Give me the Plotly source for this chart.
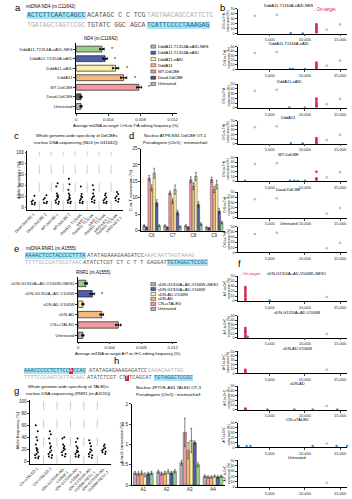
import plotly.graph_objects as go

W, H = 352, 499
FONT = "Liberation Sans, Arial, sans-serif"
MONO = "Liberation Mono, DejaVu Sans Mono, monospace"

# ---------------- DATA ----------------
# panel a
a_labels = ["DddA11-T1314A-eAID-NES", "DddA11-T1314A-eAID", "DddA11-eAID", "DddA11",
            "WT-DdCBE", "Dead-DdCBE", "Untreated"]
a_means = [0.0032, 0.0036, 0.0049, 0.0059, 0.0078, 0.0006, 0.0006]
a_err = [0.0003, 0.0003, 0.0004, 0.0004, 0.0003, 0.0001, 0.0001]
a_reps = [[0.0030, 0.0033, 0.0034], [0.0034, 0.0036, 0.0038], [0.0046, 0.0050, 0.0052],
          [0.0056, 0.0059, 0.0062], [0.0076, 0.0078, 0.0081], [0.0005, 0.0006, 0.0007],
          [0.0005, 0.0006, 0.0007]]
a_sig = ["*", "*", "*", "*", "*", "", ""]

# panel c
c_labels = ["Dead-DdCBE 1", "Dead-DdCBE 2", "WT-DdCBE 1", "WT-DdCBE 2",
            "DddA11-T1314A-<br>eAID 1", "DddA11-T1314A-<br>eAID 2",
            "DddA11-T1314A-<br>eAID-NES 1", "DddA11-T1314A-<br>eAID-NES 2"]
c_vals = [[21, 12, 10, 8, 6, 5],
          [22, 17, 14, 10, 8, 7],
          [44, 38, 25, 22, 20, 18, 15, 12, 10, 8, 6],
          [52, 42, 32, 25, 22, 18, 16, 14, 12, 10, 8, 7],
          [38, 24, 20, 18, 15, 12, 10, 8, 7],
          [40, 32, 25, 20, 18, 15, 12, 10, 8],
          [25, 22, 18, 15, 12, 10, 8, 7],
          [28, 24, 20, 17, 15, 12, 10]]

# panel d
d_groups = ["C6", "C7", "C8", "C9"]
d_series = ["Untreated", "Dead-DdCBE", "WT-DdCBE", "DddA11", "DddA11-eAID",
            "DddA11-T1314A-eAID", "DddA11-T1314A-eAID-NES"]
d_vals = [[1.5, 1.5, 1.5, 1.0],
          [1.0, 1.0, 1.0, 0.8],
          [16.0, 11.5, 15.5, 15.5],
          [13.0, 9.0, 13.5, 12.5],
          [17.5, 12.5, 16.5, 14.0],
          [8.5, 5.5, 8.0, 6.0],
          [1.5, 1.2, 2.0, 2.5]]
d_err = [[0.3, 0.3, 0.3, 0.2], [0.2, 0.2, 0.2, 0.2], [0.8, 0.6, 0.9, 0.8],
         [0.9, 0.7, 1.0, 0.9], [1.5, 1.4, 1.2, 1.3], [0.9, 0.7, 0.8, 0.8],
         [0.3, 0.3, 0.4, 0.4]]

# panel b (mtDNA-wide, DdCBE)
b_titles = ["DddA11-T1314A-eAID-NES", "DddA11-T1314A-eAID", "DddA11-eAID", "DddA11",
            "WT-DdCBE", "Dead-DdCBE", "Untreated"]
b_gray_pos = [2900, 6000, 13100, 15000]
b_gray_val = [36, 38, 8, 19]
b_red_pos = [11636, 11638, 11640, 11642, 11644, 11646, 11648]
b_red_val = [[19, 16, 13, 10, 8, 5, 3],
             [15, 12, 9, 6, 3, 1, None],
             [20, 17, 13, 9, 6, 3, None],
             [12, 9, 6, 3, 1, None, None],
             [20, 6, 3, None, None, None, None],
             [None] * 7,
             [None] * 7]
b_blue_pos = [[8000, 9700], [7900, 8300, 10000], [7800, 10000], [8000, 9700],
              [1500, 7900, 8500, 9000, 10000], [], []]
b_blue_val = [[1, 0.5], [1, 0.6, 0.8], [1, 0.6], [1, 0.5],
              [0.8, 1.2, 1.0, 0.7, 0.9], [], []]

# panel e
e_labels = ["sDN-G1310A+AD-V106W+NES1", "sDN-G1310A+AD-V106W", "sDN-AD-V106W",
            "sDN-AD", "CN+sTALED", "Untreated"]
e_means = [0.0010, 0.0018, 0.0006, 0.0030, 0.0051, 0.0006]
e_err = [0.0002, 0.0003, 0.0001, 0.0002, 0.0003, 0.0001]
e_reps = [[0.0009, 0.0010, 0.0011], [0.0016, 0.0018, 0.0020], [0.0005, 0.0006, 0.0007],
          [0.0028, 0.0030, 0.0032], [0.0048, 0.0051, 0.0054], [0.0005, 0.0006, 0.0007]]
e_sig = ["", "*", "", "", "", ""]

# panel f (mtDNA-wide, TALED)
f_titles = ["sDN-G1310A+AD-V106W+NES1", "sDN-G1310A+AD-V106W", "sDN-AD-V106W",
            "sDN-AD", "CN+sTALED", "Untreated"]
f_gray_pos = [13100]
f_gray_val = [8]
f_red_pos = [1547, 1549, 1551, 1553, 1555, 1557, 1559, 1561, 1563]
f_red_val = [[28, 25, 22, 19, 15, 12, 9, 5, 2],
             [22, 18, 15, 12, 8, 4, 1, None, None],
             [8, 5, 2, None, None, None, None, None, None],
             [3, 1, None, None, None, None, None, None, None],
             [None] * 9,
             [None] * 9]
f_blue_pos = [[5000], [1900, 16300], [], [4700, 8500, 11100, 14600],
              [640, 1724, 2270, 11100, 14500, 16000], []]
f_blue_val = [[1], [2, 3], [], [1, 1, 1, 1], [3, 3, 3, 3, 3, 3], []]

# panel g
g_labels = ["CN+sTALED 1", "CN+sTALED 2", "sDN-G1310A+AD-<br>V106W 1", "sDN-G1310A+AD-<br>V106W 2",
            "sDN-G1310A+AD-<br>V106W+NES1 1", "sDN-G1310A+AD-<br>V106W+NES1 2"]
g_vals = [[60, 50, 40, 35, 28, 22, 20, 18, 15, 12, 10, 8, 6, 5],
          [50, 45, 38, 30, 25, 22, 18, 15, 12, 10, 8, 6],
          [40, 38, 28, 25, 22, 20, 18, 15, 12, 10, 8],
          [38, 32, 25, 22, 18, 16, 15, 12, 10, 8, 7],
          [35, 30, 25, 20, 18, 15, 12, 10, 8, 6],
          [28, 25, 22, 20, 18, 16, 15, 12]]

# panel h
h_groups = ["A1", "A2", "A3", "A4"]
h_series = ["Untreated", "CN+sTALED", "sDN-AD", "sDN-AD-V106W",
            "sDN-G1310A+AD-V106W", "sDN-G1310A+AD-V106W+NES1"]
h_vals = [[0.30, 0.33, 0.55, 0.22],
          [0.28, 0.28, 1.30, 0.20],
          [0.30, 0.30, 0.85, 0.20],
          [0.25, 0.33, 1.10, 0.22],
          [0.28, 0.30, 1.05, 0.20],
          [0.30, 0.34, 0.50, 0.22]]
h_err = [[0.04, 0.04, 0.06, 0.03], [0.05, 0.04, 0.35, 0.03], [0.05, 0.04, 0.20, 0.03],
         [0.05, 0.05, 0.30, 0.03], [0.04, 0.04, 0.04, 0.03], [0.04, 0.04, 0.05, 0.03]]

# sequences (text, kind): kind c = protospacer (cyan), d = window (dark), g = flank (gray), r = target (red)
seq_a1 = [("ACTCTTCAATCAGCC", "c"), ("ACATAGC C C TCG", "d"), ("TAGTAACAGCCATTCTC", "g")]
seq_a2 = [("TGATAGCTAGTCCGC", "g"), ("TGTATC GGC AGCA", "d"), ("TCATTCCCCTAAAGAG", "c")]
seq_e1 = [("AAAACTCCTACCCCTTTA", "c"), ("ATATAGAAAGAAGATCC", "d"), ("AAACAATTAGTAAAG", "g")]
seq_e2 = [("TTTTGCCCATGCGTAAC", "g"), ("ATATCTCGT CT C T T GAGGAT", "d"), ("TGTAGGCTCCGC", "c")]
seq_h1 = [("AAACCCCCTCTTCC", "c"), ("A", "r"), ("CCAC", "c"), ("ATATAGAGAAAGAGATCC", "d"), ("GAAACAATTAG", "g")]
seq_h2 = [("TTTTCCCAATCATTACAAC", "g"), ("ATATCTCGT CT", "d"), ("T", "r"), ("TCAGCAT", "d"), ("TGTAGGCTCCGC", "c")]

# ---------------- STYLE ----------------
COL = {"Untreated": "#b3b3b3", "Dead-DdCBE": "#585858", "WT-DdCBE": "#ef9aa0",
       "DddA11": "#f6b97c", "DddA11-eAID": "#fbf0a6", "DddA11-T1314A-eAID": "#4f5fae",
       "DddA11-T1314A-eAID-NES": "#9ccc8a",
       "CN+sTALED": "#ef9aa0", "sDN-AD": "#f6b97c", "sDN-AD-V106W": "#fbf0a6",
       "sDN-G1310A+AD-V106W": "#4f5fae", "sDN-G1310A+AD-V106W+NES1": "#9ccc8a"}
RED = "#d9224e"
BLUE = "#3a8fd0"
GRAY = "#bdbdbd"


def xd(a, b):
    return [a / W, b / W]


def yd(top, bot):
    return [1 - bot / H, 1 - top / H]


base_axis = dict(showline=True, linecolor="black", linewidth=0.6, ticks="outside",
                 ticklen=2, tickwidth=0.6, tickfont=dict(size=4.5, family=FONT, color="#222"),
                 showgrid=False, zeroline=False, mirror=False)
layout_axes = {}


def make_axes(i, xdom, ydom, xkw=None, ykw=None):
    sx = "" if i == 1 else str(i)
    xa = dict(base_axis); xa.update(domain=xdom, anchor="y" + sx)
    ya = dict(base_axis); ya.update(domain=ydom, anchor="x" + sx)
    if xkw: xa.update(xkw)
    if ykw: ya.update(ykw)
    layout_axes["xaxis" + sx] = xa
    layout_axes["yaxis" + sx] = ya
    return "x" + sx, "y" + sx


fig = go.Figure()
ann = []
shapes = []


def T(px, py, text, size=4.5, color="black", xa="center", ya="middle", angle=0,
      family=FONT, bg=None):
    d = dict(x=px / W, y=1 - py / H, xref="paper", yref="paper", text=text,
             showarrow=False, xanchor=xa, yanchor=ya, textangle=angle,
             borderwidth=0, borderpad=0,
             font=dict(size=size, color=color, family=family))
    if bg:
        d.update(bgcolor=bg)
    ann.append(d)


# panel letters
for lab, px, py in [("a", 5, 6), ("b", 219, 6), ("c", 4, 135), ("d", 124, 135),
                    ("e", 4, 249), ("f", 237, 264), ("g", 4, 392), ("h", 108, 362)]:
    T(px, py, lab, size=9.5, xa="center")

# ---------- sequences ----------
CY = "#a9e4f5"
KIND = {"c": ("#1b5f8a", CY), "d": ("#555555", None), "g": ("#b0b0b0", None), "r": ("white", "#c8243f")}


def seq_line(x0, y, segs, size):
    cw = 0.6 * size
    x = x0
    for k, (txt, kind) in enumerate(segs):
        col, bg = KIND[kind]
        T(x, y, txt, size, col, "left", family=MONO, bg=bg)
        x += len(txt) * cw
        nxt = segs[k + 1][1] if k + 1 < len(segs) else None
        if kind == "r" or nxt == "r":
            x += 1.2
        else:
            x += cw


T(14, 5, "mtDNA ND4 (m.C11642)", size=4.5, xa="left")
seq_line(15, 14, seq_a1, 6.5)
seq_line(15, 24, seq_a2, 6.5)
T(14, 249, "mtDNA RNR1 (m.A1555)", size=4.5, xa="left")
seq_line(13, 256, seq_e1, 5.6)
seq_line(13, 263, seq_e2, 5.6)
seq_line(12, 373, seq_h1, 5.4)
seq_line(12, 380, seq_h2, 5.4)


# ---------- horizontal bar panels (a, e) ----------
def hbar_panel(i, labels, means, errs, reps, sig, xdom, ydom, title, tpos, xlabel, xlpos):
    xr, yr = make_axes(i, xdom, ydom,
                       dict(range=[0, 0.0125], tickvals=[0, 0.004, 0.008, 0.012],
                            ticktext=["0", "0.004", "0.008", "0.012"],
                            tickfont=dict(size=4.2, family=FONT, color="#222")),
                       dict(autorange="reversed", type="category", ticks="outside",
                            tickfont=dict(size=4.3, family=FONT, color="#222")))
    fig.add_trace(go.Bar(x=means, y=labels, orientation="h", width=0.62,
                         marker=dict(color=[COL[l] for l in labels], line=dict(color="black", width=0.6)),
                         error_x=dict(type="data", array=errs, color="black", thickness=0.6, width=1.5),
                         xaxis=xr, yaxis=yr))
    rx, ry = [], []
    for lab, rr in zip(labels, reps):
        for v in rr:
            rx.append(v); ry.append(lab)
    fig.add_trace(go.Scatter(x=rx, y=ry, mode="markers", marker=dict(size=1.8, color="black"),
                             xaxis=xr, yaxis=yr, cliponaxis=False))
    for lab, m, e, s in zip(labels, means, errs, sig):
        if s:
            ann.append(dict(x=m + e + 0.0006, y=lab, xref=xr, yref=yr, text=s, showarrow=False,
                            xanchor="left", font=dict(size=5.5, family=FONT)))
    T(tpos[0], tpos[1], title, 4.5)
    T(xlpos[0], xlpos[1], xlabel, 4.0)


hbar_panel(1, a_labels, a_means, a_err, a_reps, a_sig, xd(66, 171), yd(41, 112),
           "ND4 (m.C11642)", (92, 37),
           "Average mtDNA on-target C•G-to-T•A editing frequency (%)", (118, 124.5))
hbar_panel(2, e_labels, e_means, e_err, e_reps, e_sig, xd(68, 171), yd(278, 343),
           "RNR1 (m.A1555)", (84, 273),
           "Average mtDNA on-target A•T-to-G•C editing frequency (%)", (120, 355.5))


def legend(items, x0, y0, dy):
    for k, it in enumerate(items):
        yy = y0 + k * dy
        shapes.append(dict(type="rect", xref="paper", yref="paper",
                           x0=x0 / W, x1=(x0 + 5) / W, y0=1 - (yy + 1.6) / H, y1=1 - (yy - 1.6) / H,
                           fillcolor=COL[it], line=dict(color="black", width=0.4)))
        T(x0 + 7, yy, it, 4.1, xa="left")


legend(a_labels, 144, 45, 6.3)
legend(e_labels, 144, 285, 5.0)


# ---------- strip panels (c, g) ----------
def strip_panel(i, labels, vals, xdom, ydom, t1, t2, tx, ty, ylx, yly):
    xr, yr = make_axes(i, xdom, ydom,
                       dict(type="category", tickangle=-45, ticks="",
                            tickfont=dict(size=3.8, family=FONT, color="#222"),
                            range=[-0.5, len(labels) - 0.5]),
                       dict(range=[-5, 102], tickvals=[0, 20, 40, 60, 80, 100]))
    for lab, v in zip(labels, vals):
        fig.add_trace(go.Box(y=v, x=[lab] * len(v), boxpoints="all", jitter=0.7, pointpos=0,
                             marker=dict(size=2, color="black"), line=dict(width=0, color="rgba(0,0,0,0)"),
                             fillcolor="rgba(0,0,0,0)", xaxis=xr, yaxis=yr, width=0.5))
    for k in range(len(labels) - 1):
        shapes.append(dict(type="line", xref=xr, yref="paper",
                           x0=k + 0.5, x1=k + 0.5, y0=ydom[0], y1=ydom[1],
                           line=dict(color="#9a9a9a", width=0.5, dash="dash")))
    T(tx, ty, t1, 4.3)
    T(tx, ty + 7, t2, 4.3)
    T(ylx, yly, "Allele frequency (%)", 4.2, angle=-90)


strip_panel(3, c_labels, c_vals, xd(15, 115), yd(151, 210),
            "Whole genome-wide specificity of DdCBEs", "nuclear DNA sequencing (ND4 (m.G11642))",
            66, 135, 5, 180)
strip_panel(4, g_labels, g_vals, xd(18, 102), yd(402, 467),
            "Whole genome-wide specificity of TALEDs", "nuclear DNA sequencing (RNR1 (m.A1555))",
            58, 388, 5, 433)


# ---------- grouped bar panels (d, h) ----------
def group_panel(i, groups, series, vals, errs, xdom, ydom, yrange, ytick, t1, t2, tx, ty,
                ylab, ylx, yly):
    xr, yr = make_axes(i, xdom, ydom,
                       dict(type="category", range=[-0.5, len(groups) - 0.5], ticks=""),
                       dict(range=yrange, dtick=ytick))
    for s, v, e in zip(series, vals, errs):
        fig.add_trace(go.Bar(x=groups, y=v, name=s,
                             marker=dict(color=COL[s], line=dict(color="#333", width=0.4)),
                             error_y=dict(type="data", array=e, color="black", thickness=0.5, width=0.8),
                             xaxis=xr, yaxis=yr, offsetgroup=s))
    T(tx, ty, t1, 4.3)
    T(tx, ty + 7, t2, 4.3)
    T(ylx, yly, ylab, 4.2, angle=-90)


group_panel(5, d_groups, d_series, d_vals, d_err, xd(134, 221), yd(148, 231), [0, 25], 5,
            "Nuclear ATP8-NS1 DdCBE OT-1", "Pseudogene (Chr5) : mismatch=0", 170, 135,
            "C-to-T conversion (%)", 122, 190)
group_panel(6, h_groups, h_series, h_vals, h_err, xd(124, 221), yd(406, 488), [0, 2.0], 0.5,
            "Nuclear ZFYVE-AS1 TALED OT-3", "Pseudogene (Chr5) : mismatch=3", 162, 389.5,
            "A-to-G conversion (%)", 113, 445)


# ---------- mtDNA-wide scatter panels (b, f) ----------
def genome_panel(i, top, bot, title, tx, gpos, gval, rpos, rval, bpos, bval, ylab):
    xr, yr = make_axes(i, xd(235, 349), yd(top, bot),
                       dict(range=[500, 16000], tickvals=[5000, 10000, 15000],
                            ticktext=["5,000", "10,000", "15,000"],
                            tickfont=dict(size=4, family=FONT, color="#222")),
                       dict(range=[0, 50], tickvals=[0, 10, 20, 30, 40, 50],
                            tickfont=dict(size=3.6, family=FONT, color="#222")))
    fig.add_trace(go.Scatter(x=gpos, y=gval, mode="markers", marker=dict(size=2.6, color=GRAY),
                             xaxis=xr, yaxis=yr, cliponaxis=False))
    if bpos:
        fig.add_trace(go.Scatter(x=bpos, y=bval, mode="markers", marker=dict(size=2.4, color=BLUE),
                                 xaxis=xr, yaxis=yr, cliponaxis=False))
    fig.add_trace(go.Scatter(x=rpos, y=rval, mode="markers", marker=dict(size=2.6, color=RED),
                             xaxis=xr, yaxis=yr, cliponaxis=False))
    T(tx, top - 3, title, 4.0)
    T(223, (top + bot) / 2, ylab, 3.2, angle=-90)


b_tops = [7, 45, 83, 120, 157, 192, 227]
b_bots = [32, 68, 107, 143, 181, 218, 253]
for k in range(7):
    genome_panel(7 + k, b_tops[k], b_bots[k], b_titles[k], 288, b_gray_pos, b_gray_val,
                 b_red_pos, b_red_val[k], b_blue_pos[k], b_blue_val[k],
                 "C•G-to-T•A<br>conversion (%)")
T(313, 8, "↓ On-target", 4.5, RED, xa="left")

f_tops = [277, 317, 353, 388, 425, 463]
f_bots = [302, 339, 375, 412, 450, 490]
for k in range(6):
    genome_panel(14 + k, f_tops[k], f_bots[k], f_titles[k], 297, f_gray_pos, f_gray_val,
                 f_red_pos, f_red_val[k], f_blue_pos[k], f_blue_val[k],
                 "A•T-to-G•C<br>conversion (%)")
T(237, 274, "↓ On-target", 4.0, RED, xa="left")

fig.update_layout(width=W, height=H, margin=dict(l=0, r=0, t=0, b=0),
                  paper_bgcolor="white", plot_bgcolor="white", showlegend=False,
                  barmode="group", bargap=0.15, bargroupgap=0.0,
                  font=dict(family=FONT, size=4.5, color="black"),
                  annotations=ann, shapes=shapes, **layout_axes)
fig.write_html("out.html")
